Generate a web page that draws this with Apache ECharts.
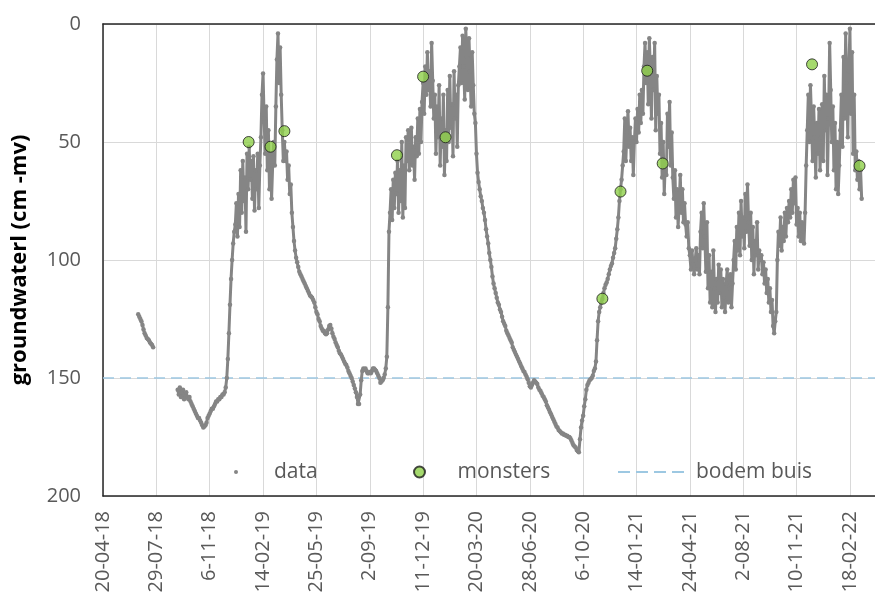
<!DOCTYPE html>
<html>
<head>
<meta charset="utf-8">
<script src="https://cdn.jsdelivr.net/npm/echarts@6/dist/echarts.min.js"></script>
<style>
html,body{margin:0;padding:0;background:#fff;}
#chart{width:875px;height:599px;}
</style>
</head>
<body>
<div id="chart"></div>
<script>
// X axis: days since 20-04-18, one tick every 100 days
const tickLabels = ['20-04-18','29-07-18','6-11-18','14-02-19','25-05-19','2-09-19','11-12-19',
  '20-03-20','28-06-20','6-10-20','14-01-21','24-04-21','2-08-21','10-11-21','18-02-22'];
const xMin = 0, xMax = 1447, xInterval = 100;
const yMin = 0, yMax = 200, yInterval = 50;
const bodemBuis = 150;

// groundwater readings (cm below surface), sampled every 2 days from each start day
const sampleStep = 2;
const earlyStart = 66;
const earlyValues = [123,124,125,126,127.5,129.5,131,132,133,133.5,134,135,135.5,136,137];

const seg1Start = 140;
const seg1Values = [155,157,154,158,156,155,159,157,156,158,
  159,158,160,161,162,163,164,165,166,167,
  167,168,169,170,171,170.5,170,169,167,166,
  165,164,163,163,162,161,160,160,159,159,
  158,158,157,157,156,154,150,142,131,119];
const seg2Start = 240;
const seg2Values = [108,100,93,88,85,76,90,72,86,62,
  80,58,75,65,88,55,70,52,66,58,
  74,56,79,62,70,55,78,60,48,30];
const seg3Start = 300;
const seg3Values = [21,40,55,35,62,45,70,55,74,60,
  50,60,35,15,4,25,10,30,45,58,
  50,58,54,66,60,72,68,80,86,92];
const seg4Start = 360;
const seg4Values = [96,99,101,103,105,106,107,108,109,110,
  111,112,113,114,115,115.5,116,117,118,120,
  122,123,125,126,128,129,130,130,131,131.5,
  131,129.5,128,127.5,129,131,132.5,133.5,135,136,
  137,138.5,139.5,140,141,142,143,144,144.5,145.5,
  147,148,149,150,151.5,153,154.5,156,158,161,
  161,157,151,147,146,146.5,146,147,148,148,
  147.5,148,147,146,146,146.5,147,148,149,150,
  152,151.5,151,150,148.5,146,141,120,88,80];
const seg5Start = 540;
const seg5Values = [70,83,66,78,63,72,58,80,62,75,
  50,82,60,78,48,58,45,62,50,44,
  60,52,66,48,56,40,55,36,50,33,
  25,38,18,30,12,28,20,35,8,24,
  40,30,55,35,48,26,60,40,52,30,
  64,45,58,28,50,22,44,34,56,20,
  40,30,52,26,18,10,25,5,18,32,
  2,14,28,6,20,35,12,26,38,42];
const seg6Start = 700;
const seg6Values = [55,63,67,70,73,75,78,80,83,87,
  90,93,97,100,103,107,110,112,114,116,
  118,119,121,122,124,126,127,128,130,131,
  132,133,134,135,137,138,139,140,141,142,
  143,144,145,146,147,147.5,148.5,149.5,150.5,152,
  153.5,154,153,152,151,151.5,152,152.5,154,155,
  155.5,156.5,157.5,158,159,160,161.5,162.5,163.5,164.5,
  165.5,166.5,167.5,168.5,169.5,170.5,171,172,172.5,173,
  173.5,173.5,174,174,174.5,174.5,175,175,175.5,176.5,
  177.5,178.5,179,179.5,180.5,181,181.5,176,171,168,
  166,162,159,155,153,152,151,150.5,150,149,
  147,146,143,134,126,122,120,118,116.5,114,
  112,110.5,109.5,108,106,104,102.5,101.5,99,97,
  95,91,87,82,75];
const seg7Start = 970;
const seg7Values = [70,66,60,54,40,58,46,37,52,44,
  58,48,64,50,40,50,36,46,30,42,
  28,38,18,8,25,12,34,6,20,40,
  14,28,8,45,22,38,30,55,42,65,
  50,72,58,64,38,52,33,60,46,65,
  74,62,82,70,86,76,64,80,70,84,
  76,85,90,84,95,98,104,96,102,106,
  100,95,104,98,106,88,80,95,76,90,
  105,84,112,98,118,105,120,96,112,122,
  108,118,102,114,104,120,108,116,122,110,
  104,118,112,106,120,110,100,92,104,86,
  96,80,98,75,90,82,95,72,88,68,
  84,94,80,100,86,106,92,98,84,104,96,100];
const seg8Start = 1234;
const seg8Values = [98,106,101,110,104,114,108,118,112,122,117,128,131,126,
  122,100,88,94,82,96,86,92,80,90,78,
  84,75,82,70,80,66,76,65,
  85,78,90,80,92,84,88,93,80,
  60,45,30,50,26,40,58,35,48,65,42,55,36,62,48,
  34,58,22,45,30,64,40,8,28,
  50,35,62,42,70,50,
  72,60,45,30,52,14,40,4,25,48,
  20,2,38,12,55,30,62,
  54,66,58,70,62,74];

// sampling moments ("monsters")
const monsterDays   = [273,314,340,551,600,642,936,970,1020,1049,1329,1418];
const monsterValues = [50,52,45.4,55.6,22.3,48,116.4,71,19.8,59.1,17.1,60.1];

function toPoints(start, values) {
  return values.map((v, i) => [start + i * sampleStep, v]);
}
const earlyPoints = toPoints(earlyStart, earlyValues);
const mainPoints = [].concat(
  toPoints(seg1Start, seg1Values), toPoints(seg2Start, seg2Values),
  toPoints(seg3Start, seg3Values), toPoints(seg4Start, seg4Values),
  toPoints(seg5Start, seg5Values), toPoints(seg6Start, seg6Values),
  toPoints(seg7Start, seg7Values), toPoints(seg8Start, seg8Values));
const monsterPoints = monsterDays.map((d, i) => [d, monsterValues[i]]);

const FONT = 'Open Sans';
const grey = '#858585';
const labelColor = '#595959';
const dashColor = '#9dc8e2';
const dataSeriesStyle = {
  type: 'line', name: 'data', symbol: 'circle', symbolSize: 4.5, showSymbol: true,
  lineStyle: { color: grey, width: 3 }, itemStyle: { color: grey },
  silent: true, z: 3, clip: true
};
const legendText = { fontFamily: FONT, fontSize: 21, color: labelColor, lineHeight: 24 };
const dashIcon = 'path://M0,0h12v2h-12z M18,0h12v2h-12z M36,0h12v2h-12z M54,0h12v2h-12z';

const chart = echarts.init(document.getElementById('chart'), null, { renderer: 'canvas' });
chart.setOption({
  animation: false,
  backgroundColor: '#ffffff',
  textStyle: { fontFamily: FONT },
  grid: { left: 103, right: 0, top: 24, bottom: 103, containLabel: false },
  legend: [
    { left: 229, top: 455, itemWidth: 66, itemHeight: 4, selectedMode: false,
      data: [{ name: 'data', icon: 'circle' }], textStyle: legendText },
    { left: 408, top: 455, itemWidth: 66, itemHeight: 11, selectedMode: false,
      data: [{ name: 'monsters', icon: 'circle' }], textStyle: legendText },
    { left: 613, top: 455, itemWidth: 66, itemHeight: 2, selectedMode: false,
      data: [{ name: 'bodem buis', icon: dashIcon, itemStyle: { color: dashColor } }],
      textStyle: Object.assign({}, legendText, { padding: [0, 0, 0, 7] }) }
  ],
  xAxis: [{
    type: 'value', position: 'bottom', min: xMin, max: xMax, interval: xInterval,
    axisLine: { show: true, onZero: false, lineStyle: { color: '#262626', width: 1.5 } },
    axisTick: { show: false },
    splitLine: { show: true, showMaxLine: false, lineStyle: { color: '#d9d9d9', width: 1 } },
    axisLabel: {
      rotate: 90, margin: 15, fontFamily: FONT, fontSize: 20, color: labelColor,
      showMaxLabel: false,
      formatter: function (v) {
        const idx = Math.round(v / xInterval);
        return (Math.abs(v - idx * xInterval) < 1e-6 && tickLabels[idx]) ? tickLabels[idx] : '';
      }
    }
  }, {
    type: 'value', position: 'top', min: xMin, max: xMax, interval: xInterval,
    axisLine: { show: true, onZero: false, lineStyle: { color: '#262626', width: 1.5 } },
    axisTick: { show: false }, axisLabel: { show: false }, splitLine: { show: false }
  }],
  yAxis: {
    type: 'value', inverse: true, min: yMin, max: yMax, interval: yInterval,
    name: 'groundwaterl (cm -mv)', nameLocation: 'middle', nameGap: 72, nameRotate: 90,
    nameTextStyle: { fontFamily: FONT, fontSize: 22, fontWeight: 'bold', color: '#000000' },
    axisLine: { show: true, onZero: false, lineStyle: { color: '#262626', width: 1.5 } },
    axisTick: { show: false },
    splitLine: { show: true, lineStyle: { color: '#d9d9d9', width: 1 } },
    axisLabel: { margin: 22, fontFamily: FONT, fontSize: 20, color: labelColor }
  },
  series: [
    { type: 'line', name: 'bodem buis', data: [[xMin, bodemBuis], [xMax, bodemBuis]],
      symbol: 'none', silent: true, z: 1, itemStyle: { color: dashColor },
      lineStyle: { color: dashColor, width: 1.5, type: [11, 6] } },
    Object.assign({}, dataSeriesStyle, { data: earlyPoints }),
    Object.assign({}, dataSeriesStyle, { data: mainPoints }),
    { type: 'scatter', name: 'monsters', data: monsterPoints, symbol: 'circle', symbolSize: 11, z: 5,
      itemStyle: { color: '#8fcf4a', borderColor: '#1a1a1a', borderWidth: 1 } }
  ]
});
</script>
</body>
</html>
